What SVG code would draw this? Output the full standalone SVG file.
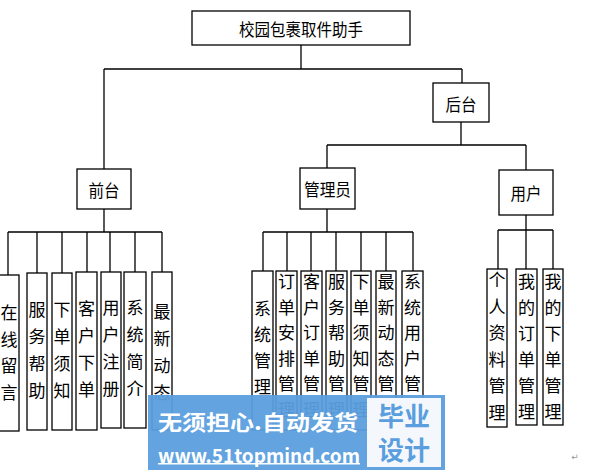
<svg xmlns="http://www.w3.org/2000/svg" width="593" height="471" viewBox="0 0 593 471">
<style>
.box{fill:#fff;stroke:#000;stroke-width:1.3}
.ln{fill:none;stroke:#000;stroke-width:1.3}
.t{font-family:"Noto Sans CJK SC","Noto Sans CJK JP",sans-serif;font-size:17px;fill:#000;text-anchor:middle;dominant-baseline:central}
.wm{font-family:"Noto Sans CJK SC","Noto Sans CJK JP",sans-serif;font-weight:bold;dominant-baseline:central}
</style>
<rect width="593" height="471" fill="#fff"/>
<g id="connectors">
<path class="ln" d="M301 45V69M104 69H462M104 69V169M462 69V83M461 122V145M327 145H526M327 145V168M526 145V170"/>
<path class="ln" d="M104 209V232M8 232H162M8 232V275M37 232V273M62 232V273M87 232V272M110 232V272M135 232V272M162 232V272"/>
<path class="ln" d="M327 209V232M263 232H413M263 232V271M287 232V271M311 232V271M336 232V271M361 232V271M386 232V271M413 232V271"/>
<path class="ln" d="M526 215V269M498 230H553M498 230V269M553 230V269"/>
</g>
<g id="root"><rect class="box" x="192" y="11" width="218" height="34"/><text class="t" x="301" y="28" textLength="124" lengthAdjust="spacingAndGlyphs">校园包裹取件助手</text></g>
<g id="houtai"><rect class="box" x="433" y="83" width="56" height="39"/><text class="t" x="461" y="103" textLength="31" lengthAdjust="spacingAndGlyphs">后台</text></g>
<g id="qiantai"><rect class="box" x="77" y="169" width="54" height="40"/><text class="t" x="104" y="189" textLength="31" lengthAdjust="spacingAndGlyphs">前台</text></g>
<g id="admin"><rect class="box" x="300" y="168" width="55" height="41"/><text class="t" x="327.5" y="188" textLength="47" lengthAdjust="spacingAndGlyphs">管理员</text></g>
<g id="user"><rect class="box" x="499" y="170" width="54" height="45"/><text class="t" x="526" y="192" textLength="31" lengthAdjust="spacingAndGlyphs">用户</text></g>

<g id="f1"><rect class="box" x="-2" y="275" width="21" height="156"/><text class="t"><tspan x="9" y="311">在</tspan><tspan x="9" y="337.5">线</tspan><tspan x="9" y="364">留</tspan><tspan x="9" y="390.5">言</tspan></text></g>
<g id="f2"><rect class="box" x="27" y="273" width="20" height="157"/><text class="t"><tspan x="37" y="308">服</tspan><tspan x="37" y="335">务</tspan><tspan x="37" y="362">帮</tspan><tspan x="37" y="389">助</tspan></text></g>
<g id="f3"><rect class="box" x="52" y="273" width="20" height="157"/><text class="t"><tspan x="62" y="308">下</tspan><tspan x="62" y="335">单</tspan><tspan x="62" y="362">须</tspan><tspan x="62" y="389">知</tspan></text></g>
<g id="f4"><rect class="box" x="76" y="272" width="21" height="158"/><text class="t"><tspan x="86.5" y="307">客</tspan><tspan x="86.5" y="334">户</tspan><tspan x="86.5" y="361">下</tspan><tspan x="86.5" y="388">单</tspan></text></g>
<g id="f5"><rect class="box" x="101" y="272" width="20" height="156"/><text class="t"><tspan x="111" y="306">用</tspan><tspan x="111" y="333">户</tspan><tspan x="111" y="360">注</tspan><tspan x="111" y="387">册</tspan></text></g>
<g id="f6"><rect class="box" x="124" y="272" width="22" height="156"/><text class="t"><tspan x="135" y="306">系</tspan><tspan x="135" y="333">统</tspan><tspan x="135" y="360">简</tspan><tspan x="135" y="387">介</tspan></text></g>
<g id="f7"><rect class="box" x="152" y="272" width="20" height="158"/><text class="t"><tspan x="162" y="310">最</tspan><tspan x="162" y="337">新</tspan><tspan x="162" y="364">动</tspan><tspan x="162" y="391">态</tspan></text></g>

<g id="a1"><rect class="box" x="252" y="271" width="21" height="159"/><text class="t"><tspan x="262.5" y="307">系</tspan><tspan x="262.5" y="333">统</tspan><tspan x="262.5" y="359">管</tspan><tspan x="262.5" y="385">理</tspan></text></g>
<g id="a2"><rect class="box" x="276" y="271" width="21" height="159"/><text class="t"><tspan x="286.5" y="280">订</tspan><tspan x="286.5" y="305.5">单</tspan><tspan x="286.5" y="331">安</tspan><tspan x="286.5" y="356.5">排</tspan><tspan x="286.5" y="382">管</tspan><tspan x="286.5" y="407.5">理</tspan></text></g>
<g id="a3"><rect class="box" x="301" y="271" width="21" height="159"/><text class="t"><tspan x="311.5" y="280">客</tspan><tspan x="311.5" y="305.5">户</tspan><tspan x="311.5" y="331">订</tspan><tspan x="311.5" y="356.5">单</tspan><tspan x="311.5" y="382">管</tspan><tspan x="311.5" y="407.5">理</tspan></text></g>
<g id="a4"><rect class="box" x="326" y="271" width="21" height="159"/><text class="t"><tspan x="336.5" y="280">服</tspan><tspan x="336.5" y="305.5">务</tspan><tspan x="336.5" y="331">帮</tspan><tspan x="336.5" y="356.5">助</tspan><tspan x="336.5" y="382">管</tspan><tspan x="336.5" y="407.5">理</tspan></text></g>
<g id="a5"><rect class="box" x="351" y="271" width="20" height="159"/><text class="t"><tspan x="361" y="280">下</tspan><tspan x="361" y="305.5">单</tspan><tspan x="361" y="331">须</tspan><tspan x="361" y="356.5">知</tspan><tspan x="361" y="382">管</tspan><tspan x="361" y="407.5">理</tspan></text></g>
<g id="a6"><rect class="box" x="376" y="271" width="20" height="159"/><text class="t"><tspan x="386" y="280">最</tspan><tspan x="386" y="305.5">新</tspan><tspan x="386" y="331">动</tspan><tspan x="386" y="356.5">态</tspan><tspan x="386" y="382">管</tspan><tspan x="386" y="407.5">理</tspan></text></g>
<g id="a7"><rect class="box" x="402" y="271" width="21" height="159"/><text class="t"><tspan x="412.5" y="280">系</tspan><tspan x="412.5" y="305.5">统</tspan><tspan x="412.5" y="331">用</tspan><tspan x="412.5" y="356.5">户</tspan><tspan x="412.5" y="382">管</tspan><tspan x="412.5" y="407.5">理</tspan></text></g>

<g id="u1"><rect class="box" x="487" y="269" width="20" height="158"/><text class="t"><tspan x="497" y="278">个</tspan><tspan x="497" y="304.5">人</tspan><tspan x="497" y="331">资</tspan><tspan x="497" y="357.5">料</tspan><tspan x="497" y="384">管</tspan><tspan x="497" y="410.5">理</tspan></text></g>
<g id="u2"><rect class="box" x="516" y="269" width="21" height="156"/><text class="t"><tspan x="526.5" y="280">我</tspan><tspan x="526.5" y="306">的</tspan><tspan x="526.5" y="332">订</tspan><tspan x="526.5" y="358">单</tspan><tspan x="526.5" y="384">管</tspan><tspan x="526.5" y="410">理</tspan></text></g>
<g id="u3"><rect class="box" x="543" y="269" width="20" height="156"/><text class="t"><tspan x="553" y="280">我</tspan><tspan x="553" y="306">的</tspan><tspan x="553" y="332">下</tspan><tspan x="553" y="358">单</tspan><tspan x="553" y="384">管</tspan><tspan x="553" y="410">理</tspan></text></g>

<text x="575" y="457" font-family="DejaVu Sans, sans-serif" font-size="9" fill="#999" text-anchor="middle" dominant-baseline="central">↵</text>

<g id="watermark">
<rect x="148" y="395" width="297" height="75" fill="#5a9ede" opacity="0.95"/>
<rect x="367" y="398" width="74" height="69" fill="#f4f8fc"/>
<text class="wm" x="158" y="421" font-size="21" fill="#fff" textLength="200" lengthAdjust="spacingAndGlyphs">无须担心.自动发货</text>
<text class="wm" x="158" y="454" font-size="19" fill="#fff" textLength="202" lengthAdjust="spacingAndGlyphs">www.51topmind.com</text>
<rect x="158" y="463" width="202" height="1.5" fill="#fff"/>
<text class="wm" x="404" y="414" font-size="26" fill="#5a9ede" text-anchor="middle">毕业</text>
<text class="wm" x="404" y="448" font-size="26" fill="#5a9ede" text-anchor="middle">设计</text>
</g>
</svg>
